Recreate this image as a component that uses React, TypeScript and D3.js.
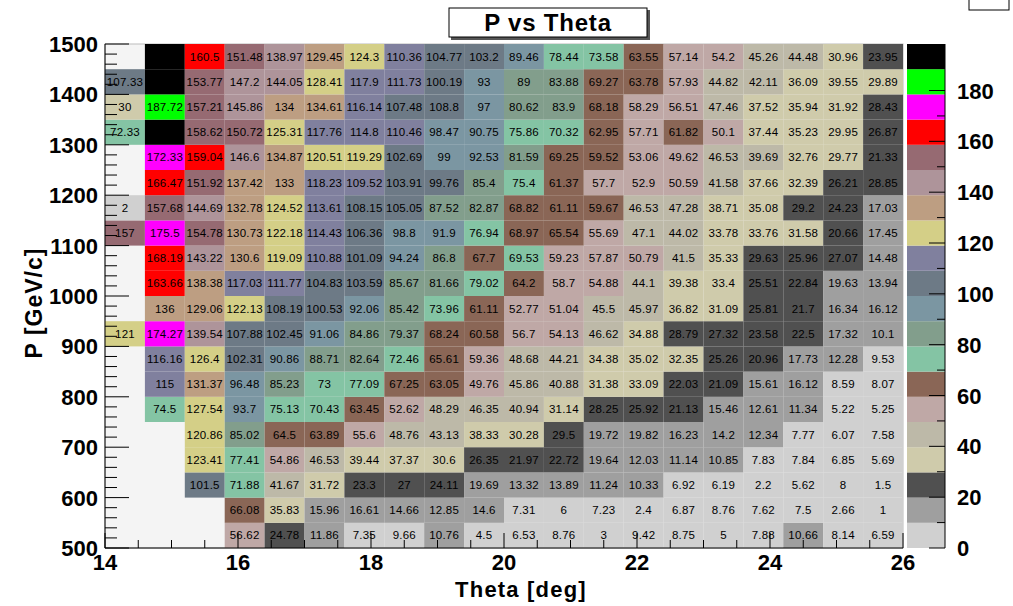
import React from "react";
import * as d3 from "d3";

// Binning of the 2D histogram: theta on x, momentum on y.
const THETA_RANGE = [14, 26];
const P_RANGE = [500, 1500];
const N_THETA = 20;
const N_P = 20;
const Z_MAX = 198.3;

const thetaTicks = [14, 16, 18, 20, 22, 24, 26];
const pTicks = [500, 600, 700, 800, 900, 1000, 1100, 1200, 1300, 1400, 1500];
const zTicks = [0, 20, 40, 60, 80, 100, 120, 140, 160, 180];

// 20-level palette, low to high.
const palette = [
  "#d0d0d0", "#9f9f9f", "#505050", "#cfcbab", "#bdb9a8",
  "#bfa8a6", "#8a6656", "#84c4a4", "#829e8c", "#7b96a2",
  "#6d7a86", "#80809e", "#d4cf87", "#bd9e82", "#ae949a",
  "#966a72", "#ff0000", "#ff00ff", "#00ff00", "#000000",
];

// Bin contents per momentum slice (theta bins left to right); null = empty bin.
const E = null;
const p1450 = [E, 198.3, 160.5, 151.48, 138.97, 129.45, 124.3, 110.36, 104.77, 103.2, 89.46, 78.44, 73.58, 63.55, 57.14, 54.2, 45.26, 44.48, 30.96, 23.95];
const p1400 = [107.33, 198.3, 153.77, 147.2, 144.05, 128.41, 117.9, 111.73, 100.19, 93, 89, 83.88, 69.27, 63.78, 57.93, 44.82, 42.11, 36.09, 39.55, 29.89];
const p1350 = [30, 187.72, 157.21, 145.86, 134, 134.61, 116.14, 107.48, 108.8, 97, 80.62, 83.9, 68.18, 58.29, 56.51, 47.46, 37.52, 35.94, 31.92, 28.43];
const p1300 = [72.33, 198.3, 158.62, 150.72, 125.31, 117.76, 114.8, 110.46, 98.47, 90.75, 75.86, 70.32, 62.95, 57.71, 61.82, 50.1, 37.44, 35.23, 29.95, 26.87];
const p1250 = [E, 172.33, 159.04, 146.6, 134.87, 120.51, 119.29, 102.69, 99, 92.53, 81.59, 69.25, 59.52, 53.06, 49.62, 46.53, 39.69, 32.76, 29.77, 21.33];
const p1200 = [E, 166.47, 151.92, 137.42, 133, 118.23, 109.52, 103.91, 99.76, 85.4, 75.4, 61.37, 57.7, 52.9, 50.59, 41.58, 37.66, 32.39, 26.21, 28.85];
const p1150 = [2, 157.68, 144.69, 132.78, 124.52, 113.61, 108.15, 105.05, 87.52, 82.87, 68.82, 61.11, 59.67, 46.53, 47.28, 38.71, 35.08, 29.2, 24.23, 17.03];
const p1100 = [157, 175.5, 154.78, 130.73, 122.18, 114.43, 106.36, 98.8, 91.9, 76.94, 68.97, 65.54, 55.69, 47.1, 44.02, 33.78, 33.76, 31.58, 20.66, 17.45];
const p1050 = [E, 168.19, 143.22, 130.6, 119.09, 110.88, 101.09, 94.24, 86.8, 67.7, 69.53, 59.23, 57.87, 50.79, 41.5, 35.33, 29.63, 25.96, 27.07, 14.48];
const p1000 = [E, 163.66, 138.38, 117.03, 111.77, 104.83, 103.59, 85.67, 81.66, 79.02, 64.2, 58.7, 54.88, 44.1, 39.38, 33.4, 25.51, 22.84, 19.63, 13.94];
const p950 = [E, 136, 129.06, 122.13, 108.19, 100.53, 92.06, 85.42, 73.96, 61.11, 52.77, 51.04, 45.5, 45.97, 36.82, 31.09, 25.81, 21.7, 16.34, 16.12];
const p900 = [121, 174.27, 139.54, 107.88, 102.45, 91.06, 84.86, 79.37, 68.24, 60.58, 56.7, 54.13, 46.62, 34.88, 28.79, 27.32, 23.58, 22.5, 17.32, 10.1];
const p850 = [E, 116.16, 126.4, 102.31, 90.86, 88.71, 82.64, 72.46, 65.61, 59.36, 48.68, 44.21, 34.38, 35.02, 32.35, 25.26, 20.96, 17.73, 12.28, 9.53];
const p800 = [E, 115, 131.37, 96.48, 85.23, 73, 77.09, 67.25, 63.05, 49.76, 45.86, 40.88, 31.38, 33.09, 22.03, 21.09, 15.61, 16.12, 8.59, 8.07];
const p750 = [E, 74.5, 127.54, 93.7, 75.13, 70.43, 63.45, 52.62, 48.29, 46.35, 40.94, 31.14, 28.25, 25.92, 21.13, 15.46, 12.61, 11.34, 5.22, 5.25];
const p700 = [E, E, 120.86, 85.02, 64.5, 63.89, 55.6, 48.76, 43.13, 38.33, 30.28, 29.5, 19.72, 19.82, 16.23, 14.2, 12.34, 7.77, 6.07, 7.58];
const p650 = [E, E, 123.41, 77.41, 54.86, 46.53, 39.44, 37.37, 30.6, 26.35, 21.97, 22.72, 19.64, 12.03, 11.14, 10.85, 7.83, 7.84, 6.85, 5.69];
const p600 = [E, E, 101.5, 71.88, 41.67, 31.72, 23.3, 27, 24.11, 19.69, 13.32, 13.89, 11.24, 10.33, 6.92, 6.19, 2.2, 5.62, 8, 1.5];
const p550 = [E, E, E, 66.08, 35.83, 15.96, 16.61, 14.66, 12.85, 14.6, 7.31, 6, 7.23, 2.4, 6.87, 8.76, 7.62, 7.5, 2.66, 1];
const p500 = [E, E, E, 56.62, 24.78, 11.86, 7.35, 9.66, 10.76, 4.5, 6.53, 8.76, 3, 9.42, 8.75, 5, 7.88, 10.66, 8.14, 6.59];

// Momentum slices from the lowest bin upwards.
const pSlices = [p500, p550, p600, p650, p700, p750, p800, p850, p900, p950, p1000, p1050, p1100, p1150, p1200, p1250, p1300, p1350, p1400, p1450];

const W = 1013;
const H = 606;
const FRAME = { left: 105, right: 903, top: 44, bottom: 548 };
const PAL = { left: 907, right: 945 };
const FONT = "'Liberation Sans', Arial, Helvetica, sans-serif";

export default function App() {
  const x = d3.scaleLinear().domain(THETA_RANGE).range([FRAME.left, FRAME.right]);
  const y = d3.scaleLinear().domain(P_RANGE).range([FRAME.bottom, FRAME.top]);
  const z = d3.scaleLinear().domain([0, Z_MAX]).range([FRAME.bottom, FRAME.top]);
  const color = d3.scaleQuantize<string>().domain([0, Z_MAX]).range(palette);

  const dTheta = (THETA_RANGE[1] - THETA_RANGE[0]) / N_THETA;
  const dP = (P_RANGE[1] - P_RANGE[0]) / N_P;

  const cells: { i: number; j: number; v: number }[] = [];
  pSlices.forEach((row, j) =>
    row.forEach((v, i) => {
      if (v !== null && v > 0) cells.push({ i, j, v });
    })
  );

  const xMinor = d3.range(THETA_RANGE[0], THETA_RANGE[1] + 1e-9, 0.5);
  const yMinor = d3.range(P_RANGE[0], P_RANGE[1] + 1e-9, 20);
  const zMinor = d3.range(0, Z_MAX, 10);
  const zLevels = d3.range(palette.length);

  return (
    <svg
      width={W}
      height={H}
      style={{ position: "absolute", left: 0, top: 0, background: "#fff" }}
      fontFamily={FONT}
    >
      <rect x={0} y={0} width={W} height={H} fill="#fff" />
      {/* frame background */}
      <rect
        x={FRAME.left}
        y={FRAME.top}
        width={FRAME.right - FRAME.left}
        height={FRAME.bottom - FRAME.top}
        fill="#f4f4f4"
        stroke="#bbb"
        strokeWidth={1}
      />

      {/* bins */}
      <g>
        {cells.map(({ i, j, v }) => {
          const t0 = THETA_RANGE[0] + i * dTheta;
          const p0 = P_RANGE[0] + j * dP;
          const x0 = x(t0);
          const x1 = x(t0 + dTheta);
          const y0 = y(p0 + dP);
          const y1 = y(p0);
          return (
            <rect
              key={`c${i}-${j}`}
              x={x0}
              y={y0}
              width={x1 - x0}
              height={y1 - y0}
              fill={color(v)}
            />
          );
        })}
      </g>
      <g fontSize={11.5} letterSpacing={0.2} textAnchor="middle" fill="#000">
        {cells.map(({ i, j, v }) => {
          const tc = THETA_RANGE[0] + (i + 0.5) * dTheta;
          const pc = P_RANGE[0] + (j + 0.5) * dP;
          return (
            <text key={`t${i}-${j}`} x={x(tc)} y={y(pc) + 4}>
              {String(v)}
            </text>
          );
        })}
      </g>

      {/* x axis */}
      <g stroke="#000" strokeWidth={1}>
        <line x1={FRAME.left} x2={FRAME.right} y1={FRAME.bottom} y2={FRAME.bottom} />
        {xMinor.map((t) => {
          const major = thetaTicks.some((m) => Math.abs(m - t) < 1e-6);
          return (
            <line
              key={`xt${t}`}
              x1={x(t)}
              x2={x(t)}
              y1={FRAME.bottom}
              y2={FRAME.bottom - (major ? 15 : 8)}
            />
          );
        })}
      </g>
      <g fontSize={22} fontWeight="bold" textAnchor="middle">
        {thetaTicks.map((t) => (
          <text key={`xl${t}`} x={x(t)} y={FRAME.bottom + 22}>
            {t}
          </text>
        ))}
      </g>

      {/* y axis */}
      <g stroke="#000" strokeWidth={1}>
        <line x1={FRAME.left} x2={FRAME.left} y1={FRAME.top} y2={FRAME.bottom} />
        {yMinor.map((p) => {
          const major = pTicks.includes(Math.round(p));
          return (
            <line
              key={`yt${p}`}
              x1={FRAME.left}
              x2={FRAME.left + (major ? 24 : 12)}
              y1={y(p)}
              y2={y(p)}
            />
          );
        })}
      </g>
      <g fontSize={22} fontWeight="bold" textAnchor="end">
        {pTicks.map((p) => (
          <text key={`yl${p}`} x={98} y={y(p) + 8}>
            {p}
          </text>
        ))}
      </g>

      {/* axis titles */}
      <text x={521} y={597} fontSize={22} letterSpacing={1.2} fontWeight="bold" textAnchor="middle">
        Theta [deg]
      </text>
      <text
        transform={`translate(42, 303) rotate(-90)`}
        fontSize={23}
        letterSpacing={1}
        fontWeight="bold"
        textAnchor="middle"
      >
        P [GeV/c]
      </text>

      {/* palette */}
      <g>
        {zLevels.map((k) => {
          const lo = (k * Z_MAX) / palette.length;
          const hi = ((k + 1) * Z_MAX) / palette.length;
          return (
            <rect
              key={`pl${k}`}
              x={PAL.left}
              y={z(hi)}
              width={PAL.right - PAL.left}
              height={z(lo) - z(hi)}
              fill={palette[k]}
            />
          );
        })}
      </g>
      <g stroke="#000" strokeWidth={1}>
        <line x1={PAL.right} x2={PAL.right} y1={FRAME.top} y2={FRAME.bottom} />
        {zMinor.map((v) => {
          const major = v % 20 === 0;
          return (
            <line
              key={`zt${v}`}
              x1={PAL.right}
              x2={PAL.right - (major ? 16 : 8)}
              y1={z(v)}
              y2={z(v)}
            />
          );
        })}
      </g>
      <g fontSize={22} fontWeight="bold" textAnchor="start">
        {zTicks.map((v) => (
          <text key={`zl${v}`} x={957} y={z(v) + 8}>
            {v}
          </text>
        ))}
      </g>

      {/* title box */}
      <rect x={451} y={10} width={199} height={30} fill="#555" />
      <rect x={449} y={8} width={198} height={29} fill="#fff" stroke="#000" strokeWidth={1} />
      <text x={548} y={31} fontSize={24} letterSpacing={0.8} fontWeight="bold" textAnchor="middle">
        P vs Theta
      </text>

      {/* corner of the statistics box */}
      <rect x={969} y={-2} width={40} height={12} fill="#fff" stroke="#000" strokeWidth={1} />
    </svg>
  );
}
